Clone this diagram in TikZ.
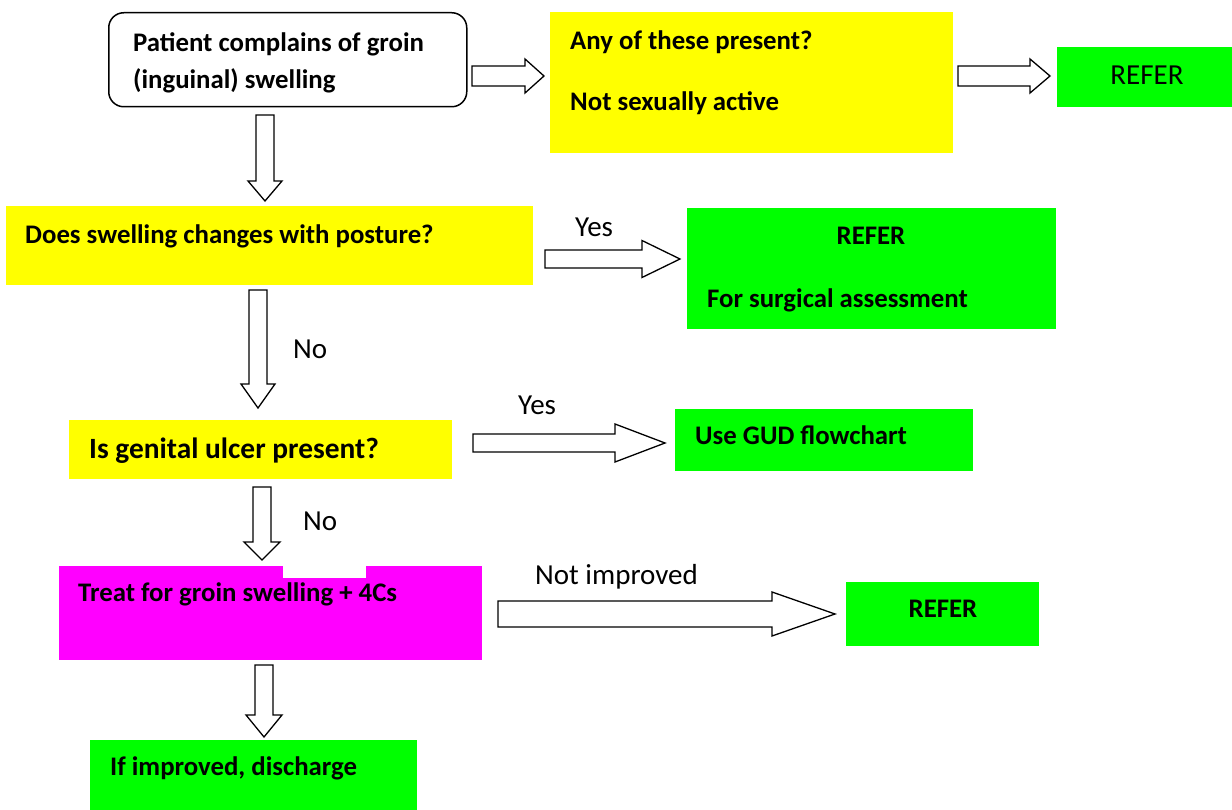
\documentclass[tikz,border=0pt]{standalone}
\usepackage{fontspec}
\setmainfont{Carlito}
\usetikzlibrary{calc}
\definecolor{ylw}{HTML}{FFFF00}
\definecolor{grn}{HTML}{00FF00}
\definecolor{mag}{HTML}{FF00FF}
\newcommand\hblock[5]{%
  \draw[blockarrow] let \p1=(#1), \p2=(#2) in
    (\x1,\y1+#3pt) -- (\x2-#5pt,\y1+#3pt) -- (\x2-#5pt,\y1+#4pt) -- (\x2,\y1)
    -- (\x2-#5pt,\y1-#4pt) -- (\x2-#5pt,\y1-#3pt) -- (\x1,\y1-#3pt) -- cycle;}
\newcommand\vblock[5]{%
  \draw[blockarrow] let \p1=(#1), \p2=(#2) in
    (\x1-#3pt,\y1) -- (\x1-#3pt,\y2+#5pt) -- (\x1-#4pt,\y2+#5pt) -- (\x1,\y2)
    -- (\x1+#4pt,\y2+#5pt) -- (\x1+#3pt,\y2+#5pt) -- (\x1+#3pt,\y1) -- cycle;}
\tikzset{
  box/.style={rectangle, inner sep=0, anchor=north west, draw=none},
  blockarrow/.style={draw=black, fill=white, line width=1.3pt, line join=miter},
  txt/.style={inner sep=0, anchor=base west, font=\fontsize{26.8}{37}\selectfont\bfseries},
  bigtxt/.style={inner sep=0, anchor=base west, font=\fontsize{29.4}{35}\selectfont\bfseries},
  lbl/.style={inner sep=0, anchor=base west, font=\fontsize{29}{35}\selectfont},
}
\begin{document}
\begin{tikzpicture}[x=1pt,y=-1pt]
\useasboundingbox[fill=white] (0,0) rectangle (1232,810);
% boxes
\node[box, draw=black, line width=1.5pt, rounded corners=15pt, fill=white,
      minimum width=358pt, minimum height=94pt] (A) at (108,12) {};
\node[box, fill=ylw, minimum width=403pt, minimum height=141pt] (B) at (550,12) {};
\node[box, fill=grn, minimum width=175pt, minimum height=60pt] (R1) at (1057,47) {};
\node[box, fill=ylw, minimum width=527pt, minimum height=79pt] (C) at (6,206) {};
\node[box, fill=grn, minimum width=369pt, minimum height=121pt] (D) at (687,208) {};
\node[box, fill=ylw, minimum width=383pt, minimum height=59pt] (E) at (69,420) {};
\node[box, fill=grn, minimum width=298pt, minimum height=62pt] (F) at (675,409) {};
\node[box, fill=mag, minimum width=423pt, minimum height=94pt] (G) at (59,566) {};
\node[box, fill=white, minimum width=83pt, minimum height=12pt] (Gw) at (283,566) {};
\node[box, fill=grn, minimum width=193pt, minimum height=64pt] (H) at (846,582) {};
\node[box, fill=grn, minimum width=327pt, minimum height=70pt] (I) at (90,740) {};
% texts
\node[txt] (tA1) at (133,52) {Patient complains of groin};
\node[txt] (tA2) at (133,89) {(inguinal) swelling};
\node[txt] (tB1) at (570,50) {Any of these present?};
\node[txt] (tB2) at (570,111) {Not sexually active};
\node[lbl, anchor=base] (tR1) at (1147,85) {REFER};
\node[txt] (tC) at (25,244) {Does swelling changes with posture?};
\node[lbl] (yes1) at (575,237) {Yes};
\node[txt, anchor=base] (tD1) at (871,245) {REFER};
\node[txt] (tD2) at (707,308) {For surgical assessment};
\node[lbl] (no1) at (293,359) {No};
\node[lbl] (yes2) at (518,414) {Yes};
\node[bigtxt] (tE) at (89,458) {Is genital ulcer present?};
\node[txt] (tF) at (695,444) {Use GUD flowchart};
\node[lbl] (no2) at (303,530) {No};
\node[txt] (tG) at (78,601) {Treat for groin swelling + 4Cs};
\node[lbl] (notimp) at (535,584) {Not improved};
\node[txt, anchor=base] (tH) at (943,617) {REFER};
\node[txt] (tI) at (110,775) {If improved, discharge};
% connector end points
\coordinate (ab1) at (472,76);   \coordinate (ab2) at (544,76);
\coordinate (br1) at (958,76);   \coordinate (br2) at (1050,76);
\coordinate (ac1) at (265,115);  \coordinate (ac2) at (265,201);
\coordinate (cd1) at (545,259);  \coordinate (cd2) at (680,259);
\coordinate (ce1) at (258,290);  \coordinate (ce2) at (258,408);
\coordinate (ef1) at (473,443);  \coordinate (ef2) at (665,443);
\coordinate (eg1) at (262,487);  \coordinate (eg2) at (262,560);
\coordinate (gh1) at (498,614);  \coordinate (gh2) at (835,614);
\coordinate (gi1) at (264,665);  \coordinate (gi2) at (264,737);
% block arrows
\hblock{ab1}{ab2}{10}{17}{19}
\hblock{br1}{br2}{10}{17}{20}
\vblock{ac1}{ac2}{9}{17}{20}
\hblock{cd1}{cd2}{9}{18.5}{38}
\vblock{ce1}{ce2}{9}{17}{24}
\hblock{ef1}{ef2}{9}{19}{50}
\vblock{eg1}{eg2}{9}{18}{18}
\hblock{gh1}{gh2}{13}{22}{63}
\vblock{gi1}{gi2}{9}{18}{22}
\end{tikzpicture}
\end{document}
